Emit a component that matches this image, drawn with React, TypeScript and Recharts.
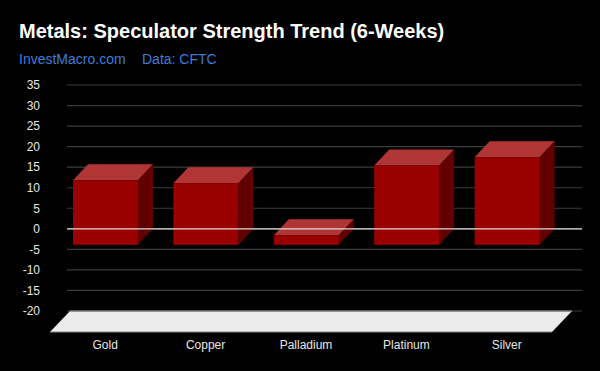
import {
  BarChart,
  Bar,
  XAxis,
  YAxis,
  CartesianGrid,
  ReferenceLine,
  ReferenceArea,
} from "recharts";

// metals and their 6-week speculator strength trend
const metals = ["Gold", "Copper", "Palladium", "Platinum", "Silver"];
const strength = [15.7, 15.0, 2.3, 19.3, 21.3];
const yTicks = [-20, -15, -10, -5, 0, 5, 10, 15, 20, 25, 30, 35];

const data = metals.map((name, i) => ({ name, value: strength[i] }));

// depth offset of the front face relative to the back wall
const DX = -15;
const DY = 16;
const FONT = "'Liberation Sans', Arial, sans-serif";

function Box3D(props: any) {
  const { x, y, width, height } = props;
  if (width == null || height == null) return null;
  const top = Math.min(y, y + height);
  const h = Math.abs(height);
  const w = width;
  return (
    <g>
      <polygon
        points={`${x},${top} ${x + w},${top} ${x + w + DX},${top + DY} ${x + DX},${top + DY}`}
        fill="#b03636"
      />
      <polygon
        points={`${x + w},${top} ${x + w},${top + h} ${x + w + DX},${top + h + DY} ${x + w + DX},${top + DY}`}
        fill="#620000"
      />
      <rect x={x + DX} y={top + DY} width={w} height={h} fill="#9a0000" />
    </g>
  );
}

function Floor(props: any) {
  const { x, y, width, height } = props;
  const b = y + height;
  return (
    <g>
      <polygon
        points={`${x},${b} ${x + width},${b} ${x + width - 20},${b + 21} ${x - 20},${b + 21}`}
        fill="#ececec"
      />
      <line x1={x} y1={b} x2={x + width} y2={b} stroke="#777" strokeWidth={1.5} />
      <line x1={x - 20} y1={b + 21} x2={x + width - 20} y2={b + 21} stroke="#888" />
    </g>
  );
}

function MetalTick(props: any) {
  const { x, y, payload } = props;
  return (
    <text
      x={x + DX}
      y={y + 38}
      textAnchor="middle"
      fill="#e6e6e6"
      fontSize={12}
      fontFamily={FONT}
    >
      {payload.value}
    </text>
  );
}

export default function App() {
  return (
    <div
      style={{
        position: "absolute",
        left: 0,
        top: 0,
        width: 600,
        height: 371,
        background: "#000",
        fontFamily: FONT,
        overflow: "hidden",
      }}
    >
      <div
        style={{
          position: "absolute",
          left: 19,
          top: 21,
          fontSize: 20,
          lineHeight: "20px",
          fontWeight: "bold",
          color: "#fff",
          whiteSpace: "nowrap",
        }}
      >
        Metals: Speculator Strength Trend (6-Weeks)
      </div>
      <div
        style={{
          position: "absolute",
          left: 19,
          top: 51.5,
          fontSize: 14,
          lineHeight: "14px",
          color: "#3d7ddb",
          whiteSpace: "nowrap",
        }}
      >
        InvestMacro.com
      </div>
      <div
        style={{
          position: "absolute",
          left: 142,
          top: 51.5,
          fontSize: 14,
          lineHeight: "14px",
          color: "#3d7ddb",
          whiteSpace: "nowrap",
        }}
      >
        Data: CFTC
      </div>
      <div style={{ position: "absolute", left: 0, top: 0 }}>
        <BarChart
          width={600}
          height={371}
          data={data}
          margin={{ top: 85, right: 18, bottom: 30, left: 0 }}
          barSize={65}
        >
          <CartesianGrid
            vertical={false}
            stroke="#3c3c3c"
            strokeWidth={1.2}
          />
          <ReferenceArea
            y1={-20}
            y2={-15}
            shape={<Floor />}
          />
          <ReferenceLine y={0} stroke="#dcdcdc" strokeWidth={1.2} />
          <XAxis
            dataKey="name"
            height={30}
            axisLine={false}
            tickLine={false}
            tickSize={0}
            tickMargin={0}
            padding={{ left: 3, right: 10 }}
            tick={<MetalTick />}
            interval={0}
          />
          <YAxis
            width={67}
            domain={[-20, 35]}
            ticks={yTicks}
            axisLine={false}
            tickLine={false}
            tickSize={0}
            tickMargin={27}
            tick={{ fill: "#e6e6e6", fontSize: 12, fontFamily: FONT }}
            interval={0}
          />
          <Bar
            dataKey="value"
            shape={<Box3D />}
            isAnimationActive={false}
          />
        </BarChart>
      </div>
    </div>
  );
}
